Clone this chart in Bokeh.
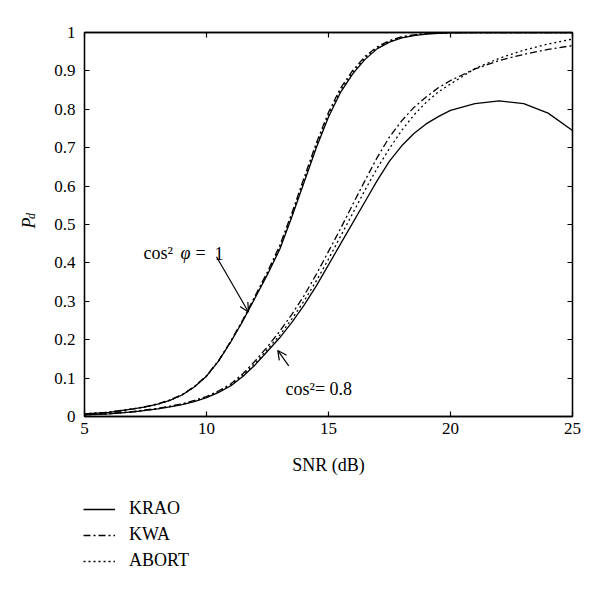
import math
from bokeh.plotting import figure
from bokeh.layouts import row, column
from bokeh.models import (Range1d, LinearAxis, FixedTicker, Legend, LegendItem,
                          Label, Arrow, OpenHead)
from bokeh.embed import file_html
from bokeh.resources import INLINE

# ---------------- data ----------------
snr = [5, 6, 7, 7.5, 8, 8.5, 9, 9.5, 10, 10.5, 11, 11.5, 12, 12.5, 13, 13.5, 14, 14.5, 15,
       15.5, 16, 16.5, 17, 17.5, 18, 18.5, 19, 19.5, 20, 21, 22, 23, 24, 25]

# cos^2 phi = 1
krao_1 = [0.007, 0.011, 0.020, 0.025, 0.032, 0.042, 0.056, 0.077, 0.105, 0.145, 0.195, 0.250,
          0.310, 0.370, 0.435, 0.520, 0.610, 0.700, 0.780, 0.845, 0.893, 0.930, 0.958,
          0.975, 0.986, 0.992, 0.996, 0.998, 0.999, 1.0, 1.0, 1.0, 1.0, 1.0]
kwa_1 = [0.007, 0.011, 0.020, 0.026, 0.033, 0.043, 0.057, 0.078, 0.106, 0.146, 0.197, 0.253,
         0.315, 0.377, 0.445, 0.530, 0.622, 0.712, 0.792, 0.856, 0.902, 0.938, 0.963,
         0.979, 0.989, 0.994, 0.997, 0.999, 1.0, 1.0, 1.0, 1.0, 1.0, 1.0]
abort_1 = [0.007, 0.011, 0.020, 0.025, 0.032, 0.042, 0.056, 0.077, 0.105, 0.145, 0.196, 0.251,
           0.312, 0.373, 0.440, 0.525, 0.616, 0.706, 0.786, 0.850, 0.897, 0.934, 0.960,
           0.977, 0.987, 0.993, 0.997, 0.998, 0.999, 1.0, 1.0, 1.0, 1.0, 1.0]

# cos^2 phi = 0.8
krao_08 = [0.004, 0.007, 0.012, 0.016, 0.020, 0.025, 0.031, 0.039, 0.049, 0.063, 0.080, 0.105,
           0.135, 0.170, 0.205, 0.245, 0.290, 0.340, 0.395, 0.450, 0.505, 0.560, 0.615,
           0.665, 0.705, 0.737, 0.762, 0.781, 0.797, 0.815, 0.822, 0.815, 0.790, 0.745]
kwa_08 = [0.005, 0.008, 0.013, 0.017, 0.021, 0.027, 0.033, 0.042, 0.052, 0.067, 0.085, 0.112,
          0.145, 0.182, 0.222, 0.266, 0.315, 0.370, 0.430, 0.490, 0.553, 0.615, 0.675,
          0.728, 0.770, 0.805, 0.832, 0.856, 0.875, 0.905, 0.927, 0.943, 0.956, 0.966]
abort_08 = [0.004, 0.007, 0.012, 0.016, 0.020, 0.026, 0.032, 0.040, 0.050, 0.065, 0.082, 0.108,
            0.139, 0.175, 0.212, 0.254, 0.301, 0.353, 0.410, 0.470, 0.530, 0.590, 0.647,
            0.698, 0.745, 0.785, 0.818, 0.845, 0.866, 0.906, 0.933, 0.954, 0.970, 0.983]

x_ticks = [5, 10, 15, 20, 25]
x_tick_labels = ["5", "10", "15", "20", "25"]
y_ticks = [0, 0.1, 0.2, 0.3, 0.4, 0.5, 0.6, 0.7, 0.8, 0.9, 1.0]
y_tick_labels = ["0", "0.1", "0.2", "0.3", "0.4", "0.5", "0.6", "0.7", "0.8", "0.9", "1"]
series_names = ["KRAO", "KWA", "ABORT"]
x_label = "SNR (dB)"

# annotation texts and positions (data space)
ann1_parts = [("cos\u00b2", 7.418, "normal"), ("\u03c6", 8.93, "italic"),
              ("=", 9.55, "normal"), ("1", 10.33, "normal")]
ann1_y = 0.425
arrow1 = (10.41, 0.416, 11.72, 0.272)
ann2_text = "cos\u00b2= 0.8"
ann2_pos = (13.24, 0.072)
arrow2 = (13.37, 0.132, 12.92, 0.172)

FONT = "Liberation Serif"
TICK_FS = "17px"
FS = "18px"

# ---------------- main figure ----------------
p = figure(width=552, height=488, output_backend="svg", toolbar_location=None,
           x_range=Range1d(5, 25), y_range=Range1d(0, 1),
           min_border_left=36, min_border_right=28, min_border_top=32,
           min_border_bottom=72)
p.background_fill_color = "white"
p.border_fill_color = "white"
p.outline_line_color = "black"
p.outline_line_width = 1.3
p.xgrid.visible = False
p.ygrid.visible = False

styles = [dict(line_dash="solid"), dict(line_dash="7 3 2 3"), dict(line_dash="2 3")]
for ys, st in zip([krao_1, kwa_1, abort_1], styles):
    p.line(snr, ys, line_color="black", line_width=1.3, **st)
for ys, st in zip([krao_08, kwa_08, abort_08], styles):
    p.line(snr, ys, line_color="black", line_width=1.3, **st)

def style_axis(ax, labels=True):
    ax.axis_line_color = "black"
    ax.axis_line_width = 1.3
    ax.major_tick_in = 5
    ax.major_tick_out = 0
    ax.minor_tick_line_color = None
    ax.major_tick_line_color = "black"
    ax.major_tick_line_width = 1.2
    ax.major_label_text_font = FONT
    ax.major_label_text_font_size = TICK_FS
    ax.major_label_text_color = "black"
    ax.axis_label_text_font = FONT
    ax.axis_label_text_font_size = FS
    ax.axis_label_text_font_style = "normal"
    ax.axis_label_text_color = "black"
    if not labels:
        ax.major_label_text_font_size = "0px"
        ax.major_label_text_alpha = 0
        ax.major_label_standoff = 0

xa = p.xaxis[0]
xa.ticker = FixedTicker(ticks=x_ticks)
xa.major_label_overrides = dict(zip(x_ticks, x_tick_labels))
xa.axis_label = x_label
style_axis(xa)
xa.major_label_standoff = 6
xa.axis_label_standoff = 18

ya = p.yaxis[0]
ya.ticker = FixedTicker(ticks=y_ticks)
ya.major_label_overrides = dict(zip(y_ticks, y_tick_labels))
style_axis(ya)
ya.major_label_standoff = 9

top = LinearAxis(ticker=FixedTicker(ticks=x_ticks))
style_axis(top, labels=False)
p.add_layout(top, "above")
right = LinearAxis(ticker=FixedTicker(ticks=y_ticks))
style_axis(right, labels=False)
p.add_layout(right, "right")

# annotations
for txt, xx, fst in ann1_parts:
    p.add_layout(Label(x=xx, y=ann1_y, text=txt, text_font=FONT, text_font_style=fst,
                       text_font_size=FS, text_baseline="alphabetic", text_color="black"))
p.add_layout(Label(x=ann2_pos[0], y=ann2_pos[1], text=ann2_text, text_font=FONT,
                   text_font_size=FS, text_baseline="alphabetic", text_color="black"))
for (x0, y0, x1, y1) in [arrow1, arrow2]:
    p.add_layout(Arrow(x_start=x0, y_start=y0, x_end=x1, y_end=y1,
                       line_color="black", line_width=1.2,
                       end=OpenHead(size=9, line_color="black", line_width=1.2)))

# ---------------- left strip with the y-axis label P_d ----------------
lf = figure(width=48, height=488, output_backend="svg", toolbar_location=None,
            x_range=Range1d(0, 48), y_range=Range1d(0, 488),
            x_axis_location=None, y_axis_location=None,
            min_border=0, min_border_left=0, min_border_right=0,
            min_border_top=0, min_border_bottom=0)
lf.grid.visible = False
lf.outline_line_color = None
lf.background_fill_color = "white"
lf.border_fill_color = "white"
lf.add_layout(Label(x=28, y=239, text="P", angle=math.pi / 2,
                    text_font=FONT, text_font_size="18px", text_font_style="italic",
                    text_align="left", text_baseline="alphabetic", text_color="black"))
lf.add_layout(Label(x=30, y=251, text="d", angle=math.pi / 2,
                    text_font=FONT, text_font_size="12px", text_font_style="italic",
                    text_align="left", text_baseline="alphabetic", text_color="black"))

# ---------------- legend strip ----------------
gf = figure(width=600, height=102, output_backend="svg", toolbar_location=None,
            x_range=Range1d(1000, 1600), y_range=Range1d(1000, 1102),
            x_axis_location=None, y_axis_location=None,
            min_border=0, min_border_left=0, min_border_right=0,
            min_border_top=0, min_border_bottom=0)
gf.grid.visible = False
gf.outline_line_color = None
gf.background_fill_color = "white"
gf.border_fill_color = "white"
# legend swatches: same series, drawn outside this strip's visible range
swatches = [gf.line(snr, ys, line_color="black", line_width=1.3, **st)
            for ys, st in zip([krao_1, kwa_1, abort_1], styles)]
legend = Legend(items=[LegendItem(label=n, renderers=[r]) for n, r in zip(series_names, swatches)],
                location=(83, 19), orientation="vertical",
                background_fill_alpha=0, border_line_alpha=0,
                padding=0, margin=0, spacing=5,
                glyph_width=32, glyph_height=20, label_height=20,
                label_standoff=14,
                label_text_font=FONT, label_text_font_size=FS, label_text_color="black")
gf.add_layout(legend, "center")

layout = column(row(lf, p, spacing=0), gf, spacing=0)
open("out.html", "w").write(file_html(layout, INLINE))
